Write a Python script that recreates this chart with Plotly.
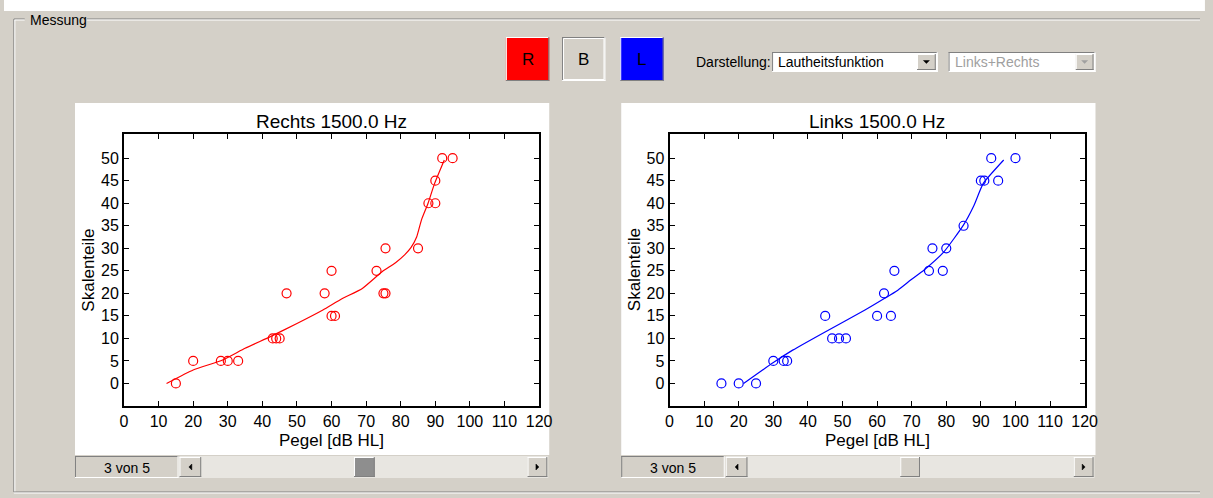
import plotly.graph_objects as go

# ---------------- data ----------------
# Rechts (right ear) measured points: level [dB HL], loudness [Skalenteile]
rechts_pegel = [15, 20, 28, 30, 33, 43, 44, 45, 47, 58, 60, 60, 61, 73, 75, 75.6, 75.6, 85, 88, 90, 90, 92, 95]
rechts_skt = [0, 5, 5, 5, 5, 10, 10, 10, 20, 20, 25, 15, 15, 25, 20, 20, 30, 30, 40, 40, 45, 50, 50]
# Rechts fitted loudness function
rechts_fit_pegel = [12.3, 20, 28.5, 35, 42.3, 50, 57.5, 63, 68.9, 74.6, 78.5, 81.2, 83.0, 84.6, 86.0, 87.9, 89.8, 92.6]
rechts_fit_skt = [0, 3.0, 5.2, 7.8, 10.4, 13.3, 16.3, 18.8, 21.1, 24.8, 26.8, 28.6, 30.2, 32.5, 36.3, 40, 44.4, 49.6]

# Links (left ear) measured points
links_pegel = [15, 20, 25, 30, 33, 34, 45, 47, 49, 51, 60, 62, 64, 65, 75, 76, 79, 80, 85, 90, 91, 95, 93, 100]
links_skt = [0, 0, 0, 5, 5, 5, 15, 10, 10, 10, 15, 20, 15, 25, 25, 30, 25, 30, 35, 45, 45, 45, 50, 50]
# Links fitted loudness function
links_fit_pegel = [21.4, 29.9, 35.6, 45.1, 56.5, 62.2, 66.0, 69.8, 73.6, 79.3, 85.0, 88.0, 90.7, 96.6]
links_fit_skt = [0, 4.6, 7.4, 11.5, 16.3, 18.9, 20.7, 23.0, 25.2, 29.2, 35.2, 39.5, 44.4, 49.6]

x_ticks = list(range(0, 121, 10))
y_ticks = list(range(0, 51, 5))

titles = ["Rechts 1500.0 Hz", "Links 1500.0 Hz"]
x_title = "Pegel [dB HL]"
y_title = "Skalenteile"

# ---------------- layout helpers ----------------
W, H = 1213, 498
GRAY = "#D4D0C8"
DARK = "#808080"
FONT = "Liberation Sans, Arial, sans-serif"


def px(x):
    return x / W


def py(y):
    return 1 - y / H


shapes = []
annotations = []


def rect(x0, y0, x1, y1, fill, line=None, lw=1):
    shapes.append(dict(type="rect", xref="paper", yref="paper",
                       x0=px(x0), x1=px(x1), y0=py(y1), y1=py(y0),
                       fillcolor=fill, line=dict(color=line or fill, width=lw if line else 0),
                       layer="below"))


def hline(x0, x1, y, color, lw=1):
    shapes.append(dict(type="line", xref="paper", yref="paper",
                       x0=px(x0), x1=px(x1), y0=py(y), y1=py(y),
                       line=dict(color=color, width=lw), layer="below"))


def vline(x, y0, y1, color, lw=1):
    shapes.append(dict(type="line", xref="paper", yref="paper",
                       x0=px(x), x1=px(x), y0=py(y0), y1=py(y1),
                       line=dict(color=color, width=lw), layer="below"))


def bevel(x0, y0, x1, y1, fill, raised=True):
    rect(x0, y0, x1, y1, fill)
    hi, lo = ("white", DARK) if raised else (DARK, "white")
    hline(x0, x1, y0 + 0.5, hi)
    vline(x0 + 0.5, y0, y1, hi)
    hline(x0, x1, y1 - 0.5, lo)
    vline(x1 - 0.5, y0, y1, lo)


def tri(cx, cy, direction, color="black", s=3):
    if direction == "left":
        path = f"M {px(cx + s/2)} {py(cy - s)} L {px(cx - s/2)} {py(cy)} L {px(cx + s/2)} {py(cy + s)} Z"
    elif direction == "right":
        path = f"M {px(cx - s/2)} {py(cy - s)} L {px(cx + s/2)} {py(cy)} L {px(cx - s/2)} {py(cy + s)} Z"
    else:
        path = f"M {px(cx - s)} {py(cy - s/2)} L {px(cx + s)} {py(cy - s/2)} L {px(cx)} {py(cy + s/2)} Z"
    shapes.append(dict(type="path", xref="paper", yref="paper", path=path,
                       fillcolor=color, line=dict(color=color, width=0.5), layer="above"))


def text(x, y, s, size=14, color="black", xanchor="center", yanchor="middle", angle=0):
    annotations.append(dict(x=px(x), y=py(y), xref="paper", yref="paper", text=s,
                            showarrow=False, xanchor=xanchor, yanchor=yanchor, textangle=angle,
                            font=dict(family=FONT, size=size, color=color)))


# top white strip
rect(0, 0, W + 5, 11, "white")
# group frame "Messung"
hline(10, 21, 19, DARK)
hline(10, 21, 20, "white")
hline(84, W, 19, DARK)
hline(84, W, 20, "white")
vline(10, 19, 492, DARK)
vline(11, 20, 492, "white")
hline(10, W, 492, DARK)
hline(10, W, 493, "white")
text(24, 20, "Messung", size=14, xanchor="left")

# R / B / L buttons
for (x0, fill, lab) in [(509, "#FF0000", "R"), (566, GRAY, "B"), (625, "#0000FF", "L")]:
    raised = lab != "B"
    bevel(x0, 37, x0 + 44, 81, fill, raised=raised)
    if not raised:
        shapes.append(dict(type="rect", xref="paper", yref="paper",
                           x0=px(x0 + 1.5), x1=px(x0 + 42.5), y0=py(79.5), y1=py(38.5),
                           line=dict(color="white", width=1), layer="below"))
    text(x0 + 22, 60, lab, size=17)

# Darstellung dropdowns
text(700, 62, "Darstellung:", size=14, xanchor="left")
bevel(779, 52, 947, 72, "white", raised=False)
bevel(926, 54, 945, 70, GRAY, raised=True)
tri(935.5, 62, "down")
text(783, 62, "Lautheitsfunktion", size=14, xanchor="left")

bevel(958, 52, 1107, 72, "white", raised=False)
bevel(1087, 54, 1105, 70, GRAY, raised=True)
tri(1096, 62, "down", color="#A0A0A0")
text(962, 62, "Links+Rechts", size=14, color="#A0A0A0", xanchor="left")

# white plot panels
panels = [(72, 553), (626, 1107)]
for (a, b) in panels:
    rect(a, 103, b, 455, "white")

# scrollbars under each plot
scroll = [
    dict(lab=(72, 177), track=(178, 552), thumb=(355, 376), dark=True),
    dict(lab=(626, 731), track=(732, 1106), thumb=(909, 929), dark=False),
]
for sb in scroll:
    l0, l1 = sb["lab"]
    t0, t1 = sb["track"]
    bevel(l0, 456, l1, 478, GRAY, raised=False)
    text((l0 + l1) / 2, 467.5, "3 von 5", size=14)
    rect(t0, 456, t1, 478, "#E8E6E1")
    bevel(t0, 457, t0 + 22, 477, GRAY, raised=True)
    tri(t0 + 11, 467, "left")
    bevel(t1 - 21, 457, t1 - 1, 477, GRAY, raised=True)
    tri(t1 - 11, 467, "right")
    h0, h1 = sb["thumb"]
    if sb["dark"]:
        bevel(h0, 457, h1, 477, "#8E8E8E", raised=True)
    else:
        bevel(h0, 457, h1, 477, GRAY, raised=True)

# ---------------- figure ----------------
fig = go.Figure()

axes_px = [(121.7, 542.7), (675.0, 1096.0)]
ax_top, ax_bot = 134.3, 406.0

series = [
    (rechts_pegel, rechts_skt, rechts_fit_pegel, rechts_fit_skt, "#FF0000"),
    (links_pegel, links_skt, links_fit_pegel, links_fit_skt, "#0000FF"),
]

for i, (xs, ys, fx, fy, col) in enumerate(series):
    xa = "x" if i == 0 else "x2"
    ya = "y" if i == 0 else "y2"
    fig.add_trace(go.Scatter(x=fx, y=fy, mode="lines",
                             line=dict(color=col, width=1.2, shape="spline", smoothing=0.5),
                             xaxis=xa, yaxis=ya, showlegend=False, hoverinfo="skip"))
    fig.add_trace(go.Scatter(x=xs, y=ys, mode="markers",
                             marker=dict(symbol="circle-open", size=9, color=col,
                                         line=dict(color=col, width=1.2)),
                             xaxis=xa, yaxis=ya, showlegend=False))
    a, b = axes_px[i]
    c = (a + b) / 2
    text(c, 121.5, titles[i], size=19)
    text(c, 440, x_title, size=17)
    text(a - 36, (ax_top + ax_bot) / 2, y_title, size=17, angle=-90)

axis_common = dict(showline=True, linecolor="black", linewidth=2, mirror="ticks",
                   ticks="inside", ticklen=5, tickwidth=1.2, tickcolor="black",
                   showgrid=False, zeroline=False, fixedrange=True,
                   tickfont=dict(family=FONT, size=16, color="black"))

fig.update_layout(
    width=W, height=H, autosize=False,
    margin=dict(l=0, r=0, t=0, b=0),
    paper_bgcolor=GRAY, plot_bgcolor="white",
    shapes=shapes, annotations=annotations,
    xaxis=dict(domain=[px(axes_px[0][0]), px(axes_px[0][1])], range=[0, 120],
               tickvals=x_ticks, anchor="y", **axis_common),
    yaxis=dict(domain=[py(ax_bot), py(ax_top)], range=[-5, 55.3],
               tickvals=y_ticks, anchor="x", **axis_common),
    xaxis2=dict(domain=[px(axes_px[1][0]), px(axes_px[1][1])], range=[0, 120],
                tickvals=x_ticks, anchor="y2", **axis_common),
    yaxis2=dict(domain=[py(ax_bot), py(ax_top)], range=[-5, 55.3],
                tickvals=y_ticks, anchor="x2", **axis_common),
)

fig.write_html(
    "out.html",
    config={"displayModeBar": False},
    post_script=(
        "document.documentElement.style.overflow='hidden';"
        "document.documentElement.style.margin='0';"
        "document.body.style.margin='0';"
        "document.body.style.overflow='hidden';"
        "document.body.style.background='#D4D0C8';"
    ),
)
